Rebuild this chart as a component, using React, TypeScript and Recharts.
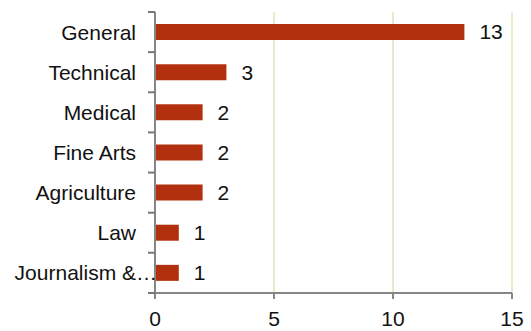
import React from "react";
import { BarChart, Bar, XAxis, YAxis, CartesianGrid, LabelList } from "recharts";

const categories = ["General", "Technical", "Medical", "Fine Arts", "Agriculture", "Law", "Journalism &…"];
const counts = [13, 3, 2, 2, 2, 1, 1];
const xTicks = [0, 5, 10, 15];

const data = categories.map((name, i) => ({ name, value: counts[i] }));

const FONT = "'Liberation Sans', Arial, sans-serif";
const AXIS = "#868686";

const YTick = (props: any) => {
  const { payload, index, visibleTicksCount, height } = props;
  const x = Number(props.x);
  const y = Number(props.y);
  const n = Number(visibleTicksCount) || categories.length;
  const h = Number(height);
  const half = h > 0 ? h / (2 * n) : 20;
  const axisX = x + 19;
  const label = String(payload.value);
  const truncated = label.endsWith("…");
  const top = y - half;
  const bottom = y + half;
  const d =
    `M${axisX - 7},${top}H${axisX}` + (index === n - 1 ? `M${axisX - 7},${bottom}H${axisX}` : "");
  return (
    <g>
      <text
        x={truncated ? axisX + 2 : x}
        y={y}
        dy="0.355em"
        textAnchor="end"
        fill="#111"
        fontSize={21}
        fontFamily={FONT}
      >
        {label}
      </text>
      <path d={d} stroke="#777777" strokeWidth={2} fill="none" />
    </g>
  );
};

export default function App() {
  return (
    <div style={{ position: "absolute", left: 0, top: 0 }}>
      <style>{"body{margin:0}"}</style>
      <BarChart
        width={531}
        height={331}
        data={data}
        layout="vertical"
        margin={{ top: 12, right: 19, bottom: 0, left: 0 }}
      >
        <CartesianGrid horizontal={false} vertical={true} stroke="#d6e9bb" strokeWidth={1.5} />
        <XAxis
          type="number"
          domain={[0, 15]}
          ticks={xTicks}
          interval={0}
          height={38}
          axisLine={{ stroke: AXIS, strokeWidth: 2 }}
          tickLine={{ stroke: AXIS, strokeWidth: 2 }}
          tickSize={6}
          tickMargin={12}
          tick={{ fill: "#111", fontSize: 21, fontFamily: FONT }}
        />
        <YAxis
          type="category"
          dataKey="name"
          width={155}
          interval={0}
          axisLine={{ stroke: AXIS, strokeWidth: 2 }}
          tickLine={false}
          tickSize={7}
          tickMargin={12}
          tick={<YTick />}
        />
        <Bar dataKey="value" fill="#b3300f" barSize={16} isAnimationActive={false}>
          <LabelList dataKey="value" position="right" offset={15} fill="#111" fontSize={21} fontFamily={FONT} />
        </Bar>
      </BarChart>
    </div>
  );
}
